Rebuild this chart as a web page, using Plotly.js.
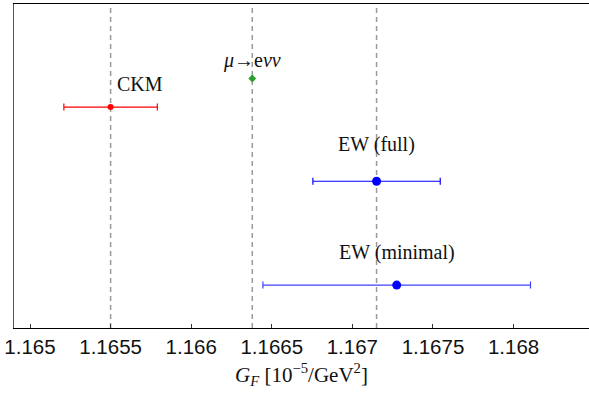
<!DOCTYPE html>
<html><head><meta charset="utf-8">
<script src="https://cdn.plot.ly/plotly-3.0.1.min.js"></script>
<style>html,body{margin:0;padding:0;background:#fff}#chart{width:589px;height:393px}</style>
</head><body><div id="chart"></div>
<script>
// Data
const labels = ["CKM", "<i>\u03BC</i>\u2192e<i>\u03BD\u03BD</i>", "EW (full)", "EW (minimal)"];
const centers = [1.16550, 1.166379, 1.16715, 1.167275];
const errors = [0.00029, 0, 0.000395, 0.00083];
const rows = [0.682, 0.770, 0.453, 0.1325];
const refLines = [1.16550, 1.166379, 1.16715];
const tickVals = [1.165, 1.1655, 1.166, 1.1665, 1.167, 1.1675, 1.168];
const tickText = ["1.165", "1.1655", "1.166", "1.1665", "1.167", "1.1675", "1.168"];

const serif = "Liberation Serif, Times New Roman, serif";
const sans = "Liberation Sans, Arial, sans-serif";

const styles = [
  {color: "red", symbol: "circle", size: 6, bar: "red"},
  {color: "#2ca02c", symbol: "diamond", size: 6, bar: "#2ca02c"},
  {color: "blue", symbol: "circle", size: 9, bar: "blue"},
  {color: "blue", symbol: "circle", size: 9, bar: "rgba(0,0,255,0.75)"}
];

const traces = labels.map((lab, i) => ({
  type: "scatter", mode: "markers",
  x: [centers[i]], y: [rows[i]],
  marker: {color: styles[i].color, symbol: styles[i].symbol, size: styles[i].size},
  error_x: errors[i] > 0 ? {type: "data", array: [errors[i]], visible: true,
    color: styles[i].bar, thickness: 1.2, width: 3.5} : {visible: false},
  showlegend: false, hoverinfo: "skip"
}));

const labelOffsets = [
  {dx: 0.00003, dy: 0.072, anchor: "left"},
  {dx: 0.0, dy: 0.057, anchor: "center"},
  {dx: 0.0, dy: 0.112, anchor: "center"},
  {dx: 0.0, dy: 0.1, anchor: "center"}
];

const annotations = labels.map((lab, i) => ({
  x: centers[i] + labelOffsets[i].dx, y: rows[i] + labelOffsets[i].dy,
  xref: "x", yref: "y", text: lab, showarrow: false,
  xanchor: labelOffsets[i].anchor, yanchor: "middle",
  font: {family: serif, size: 20, color: "#111"}
}));

const shapes = refLines.map(v => ({
  type: "line", xref: "x", yref: "paper", x0: v, x1: v, y0: 0, y1: 1,
  line: {color: "#9a9a9a", width: 1.5, dash: "5px,4px"}, layer: "below"
}));

const layout = {
  width: 589, height: 393,
  margin: {l: 14, r: 0, t: 3.5, b: 65, pad: 0},
  paper_bgcolor: "#fff", plot_bgcolor: "#fff",
  showlegend: false,
  xaxis: {
    range: [1.1649007, 1.168468], showgrid: false, zeroline: false,
    showline: true, linecolor: "#000", linewidth: 1.2, mirror: true,
    ticks: "inside", ticklen: 4, tickcolor: "#333", tickwidth: 1,
    tickvals: tickVals, ticktext: tickText,
    tickfont: {family: sans, size: 20.5, color: "#111"},
    title: {text: "<i>G</i><sub><i>F</i></sub> [10<sup>\u22125</sup>/GeV<sup>2</sup>]",
      font: {family: serif, size: 21, color: "#111"}, standoff: 10}
  },
  yaxis: {
    range: [0, 1], showgrid: false, zeroline: false, showticklabels: false,
    ticks: "", showline: true, linecolor: "#555", linewidth: 1.5
  },
  shapes: shapes, annotations: annotations
};

Plotly.newPlot("chart", traces, layout, {displayModeBar: false, staticPlot: true});
</script></body></html>
